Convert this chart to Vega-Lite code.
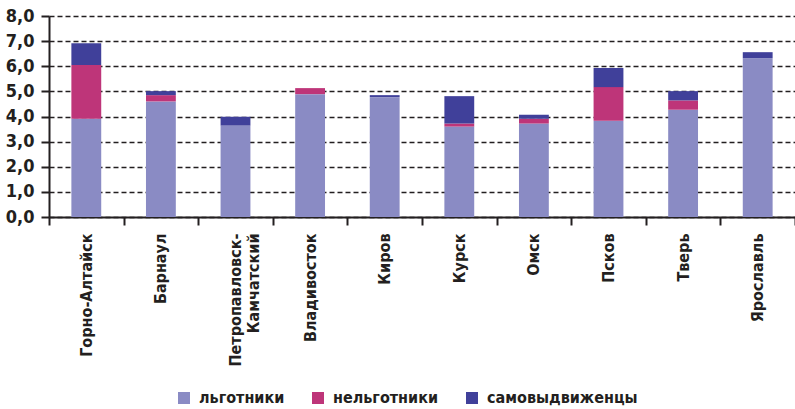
{
  "$schema": "https://vega.github.io/schema/vega-lite/v6.json",
  "width": 746,
  "height": 201,
  "autosize": "none",
  "padding": {"left": 49, "top": 16, "right": 0, "bottom": 192},
  "background": "white",
  "config": {"view": {"stroke": null}, "font": "DejaVu Sans Condensed"},
  "data": {"values": [
    {"city": "Горно-Алтайск", "cat": "льготники", "ord": 1, "value": 3.91},
    {"city": "Горно-Алтайск", "cat": "нельготники", "ord": 2, "value": 2.14},
    {"city": "Горно-Алтайск", "cat": "самовыдвиженцы", "ord": 3, "value": 0.87},
    {"city": "Барнаул", "cat": "льготники", "ord": 1, "value": 4.60},
    {"city": "Барнаул", "cat": "нельготники", "ord": 2, "value": 0.25},
    {"city": "Барнаул", "cat": "самовыдвиженцы", "ord": 3, "value": 0.16},
    {"city": "Петропавловск-Камчатский", "cat": "льготники", "ord": 1, "value": 3.64},
    {"city": "Петропавловск-Камчатский", "cat": "самовыдвиженцы", "ord": 3, "value": 0.35},
    {"city": "Владивосток", "cat": "льготники", "ord": 1, "value": 4.89},
    {"city": "Владивосток", "cat": "нельготники", "ord": 2, "value": 0.24},
    {"city": "Киров", "cat": "льготники", "ord": 1, "value": 4.77},
    {"city": "Киров", "cat": "самовыдвиженцы", "ord": 3, "value": 0.08},
    {"city": "Курск", "cat": "льготники", "ord": 1, "value": 3.60},
    {"city": "Курск", "cat": "нельготники", "ord": 2, "value": 0.12},
    {"city": "Курск", "cat": "самовыдвиженцы", "ord": 3, "value": 1.09},
    {"city": "Омск", "cat": "льготники", "ord": 1, "value": 3.72},
    {"city": "Омск", "cat": "нельготники", "ord": 2, "value": 0.19},
    {"city": "Омск", "cat": "самовыдвиженцы", "ord": 3, "value": 0.16},
    {"city": "Псков", "cat": "льготники", "ord": 1, "value": 3.83},
    {"city": "Псков", "cat": "нельготники", "ord": 2, "value": 1.34},
    {"city": "Псков", "cat": "самовыдвиженцы", "ord": 3, "value": 0.76},
    {"city": "Тверь", "cat": "льготники", "ord": 1, "value": 4.27},
    {"city": "Тверь", "cat": "нельготники", "ord": 2, "value": 0.37},
    {"city": "Тверь", "cat": "самовыдвиженцы", "ord": 3, "value": 0.37},
    {"city": "Ярославль", "cat": "льготники", "ord": 1, "value": 6.32},
    {"city": "Ярославль", "cat": "самовыдвиженцы", "ord": 3, "value": 0.24}
  ]},
  "mark": {"type": "bar", "width": {"band": 0.4}},
  "encoding": {
    "x": {
      "field": "city", "type": "nominal", "sort": null,
      "scale": {"paddingInner": 0, "paddingOuter": 0},
      "axis": {
        "title": null,
        "labelAngle": -90,
        "labelAlign": "right",
        "labelBaseline": "middle",
        "labelFontSize": 16,
        "labelFontWeight": "bold",
        "labelColor": "#231f20",
        "labelPadding": 8,
        "labelLineHeight": 18,
        "labelOverlap": false,
        "labelExpr": "datum.value == 'Петропавловск-Камчатский' ? ['Петропавловск-', 'Камчатский'] : datum.label",
        "tickBand": "extent",
        "tickSize": 8,
        "tickWidth": 2,
        "tickColor": "#231f20",
        "domainColor": "#231f20",
        "domainWidth": 2,
        "grid": false
      }
    },
    "y": {
      "field": "value", "type": "quantitative", "stack": "zero",
      "scale": {"domain": [0, 8], "nice": false},
      "axis": {
        "title": null,
        "values": [0, 1, 2, 3, 4, 5, 6, 7, 8],
        "labelExpr": "replace(format(datum.value, '.1f'), '.', ',')",
        "labelFontSize": 18,
        "labelFontWeight": "bold",
        "labelColor": "#231f20",
        "labelPadding": 7,
        "tickSize": 8,
        "tickWidth": 2,
        "tickColor": "#231f20",
        "domainColor": "#231f20",
        "domainWidth": 2,
        "grid": true,
        "gridDash": [5, 3],
        "gridColor": "#231f20",
        "gridWidth": 1.5
      }
    },
    "color": {
      "field": "cat", "type": "nominal",
      "scale": {
        "domain": ["льготники", "нельготники", "самовыдвиженцы"],
        "range": ["#8A8BC4", "#BE3579", "#40409A"]
      },
      "legend": {
        "orient": "none",
        "legendX": 127,
        "legendY": 374,
        "direction": "horizontal",
        "title": null,
        "symbolType": "square",
        "symbolSize": 144,
        "symbolStrokeWidth": 0,
        "labelFontSize": 16,
        "labelFontWeight": "bold",
        "labelColor": "#231f20",
        "columnPadding": 25,
        "labelOffset": 7
      }
    },
    "order": {"field": "ord", "type": "quantitative"}
  }
}
